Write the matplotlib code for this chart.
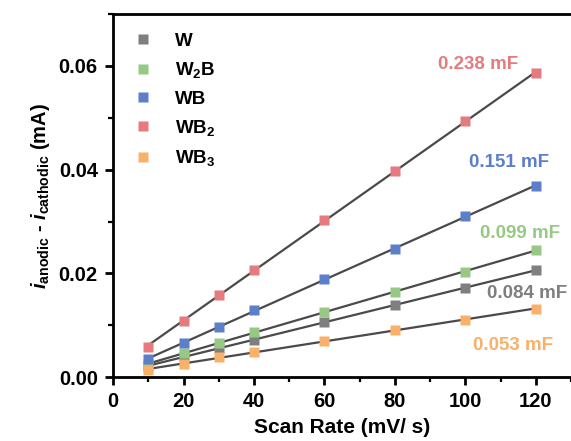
import numpy as np
import matplotlib
matplotlib.use("Agg")
import matplotlib.pyplot as plt
from matplotlib.ticker import MultipleLocator, FormatStrFormatter

plt.rcParams['font.family'] = ['Liberation Sans', 'DejaVu Sans']
plt.rcParams['font.weight'] = 'bold'
plt.rcParams['mathtext.fontset'] = 'custom'
plt.rcParams['mathtext.rm'] = 'Liberation Sans:bold'
plt.rcParams['mathtext.bf'] = 'Liberation Sans:bold'
plt.rcParams['mathtext.it'] = 'Liberation Sans:bold:italic'

scan_rate = [10, 20, 30, 40, 60, 80, 100, 120]

current_w = [0.0021, 0.0040, 0.0056, 0.0071, 0.0106, 0.0139, 0.0171, 0.0207]
current_w2b = [0.0025, 0.0046, 0.0066, 0.0086, 0.0126, 0.0164, 0.0203, 0.0245]
current_wb = [0.0034, 0.0066, 0.0097, 0.0129, 0.0189, 0.0247, 0.0311, 0.0368]
current_wb2 = [0.0058, 0.0109, 0.0158, 0.0207, 0.0303, 0.0398, 0.0493, 0.0586]
current_wb3 = [0.00135, 0.0026, 0.0038, 0.0048, 0.0070, 0.0091, 0.0111, 0.0131]

labels = ['W', r'W$_{\mathregular{2}}$B', 'WB', r'WB$_{\mathregular{2}}$', r'WB$_{\mathregular{3}}$']
colors = ['#7f7f7f', '#97c985', '#5d7fc9', '#e57b7e', '#f9b06a']
cdl_text = ['0.084 mF', '0.099 mF', '0.151 mF', '0.238 mF', '0.053 mF']
cdl_pos = [(117.5, 0.0161), (115.5, 0.0276), (112.5, 0.0414), (103.5, 0.0603), (113.5, 0.0060)]

series = [current_w, current_w2b, current_wb, current_wb2, current_wb3]

fig = plt.figure(figsize=(5.71, 4.41), dpi=100)
ax = fig.add_axes([0.198, 0.145, 0.802, 0.823])

x = np.array(scan_rate, dtype=float)
for ys, c, lab in zip(series, colors, labels):
    ys = np.array(ys)
    k, b = np.polyfit(x, ys, 1)
    ax.plot(x, k * x + b, color='#4a4a4a', lw=1.6, zorder=2)
    ax.plot(x, ys, 's', color=c, ms=7.5, mec='none', zorder=3, label=lab)

for txt, (tx, ty), c in zip(cdl_text, cdl_pos, colors):
    ax.text(tx, ty, txt, color=c, fontsize=13.5, fontweight='bold', ha='center', va='center')

ax.set_xlim(0, 130)
ax.set_ylim(0, 0.07)
ax.xaxis.set_major_locator(MultipleLocator(20))
ax.xaxis.set_minor_locator(MultipleLocator(10))
ax.yaxis.set_major_locator(MultipleLocator(0.02))
ax.yaxis.set_minor_locator(MultipleLocator(0.01))
ax.yaxis.set_major_formatter(FormatStrFormatter('%.2f'))

for s in ['left', 'bottom', 'top']:
    ax.spines[s].set_linewidth(2)
ax.spines['right'].set_color('#cccccc')
ax.spines['right'].set_linewidth(0.8)

ax.tick_params(which='major', direction='out', length=6, width=2, labelsize=14.5, pad=5)
ax.tick_params(which='minor', direction='out', length=3.5, width=1.6)
ax.tick_params(top=False, right=False, which='both')
for lbl in ax.get_xticklabels() + ax.get_yticklabels():
    lbl.set_fontweight('bold')

ax.set_xlabel('Scan Rate (mV/ s)', fontsize=15, fontweight='bold', labelpad=5)
ax.set_ylabel(r'$i_{\mathregular{anodic}}$ - $i_{\mathregular{cathodic}}$ (mA)',
              fontsize=14.5, fontweight='bold', labelpad=5)

leg = ax.legend(loc='upper left', frameon=False, fontsize=13.5, handletextpad=1.1,
                labelspacing=0.55, markerscale=0.95, borderaxespad=0.5, borderpad=0.5,
                handlelength=1.2)
for t in leg.get_texts():
    t.set_fontweight('bold')

fig.savefig('out.png', dpi=100)
